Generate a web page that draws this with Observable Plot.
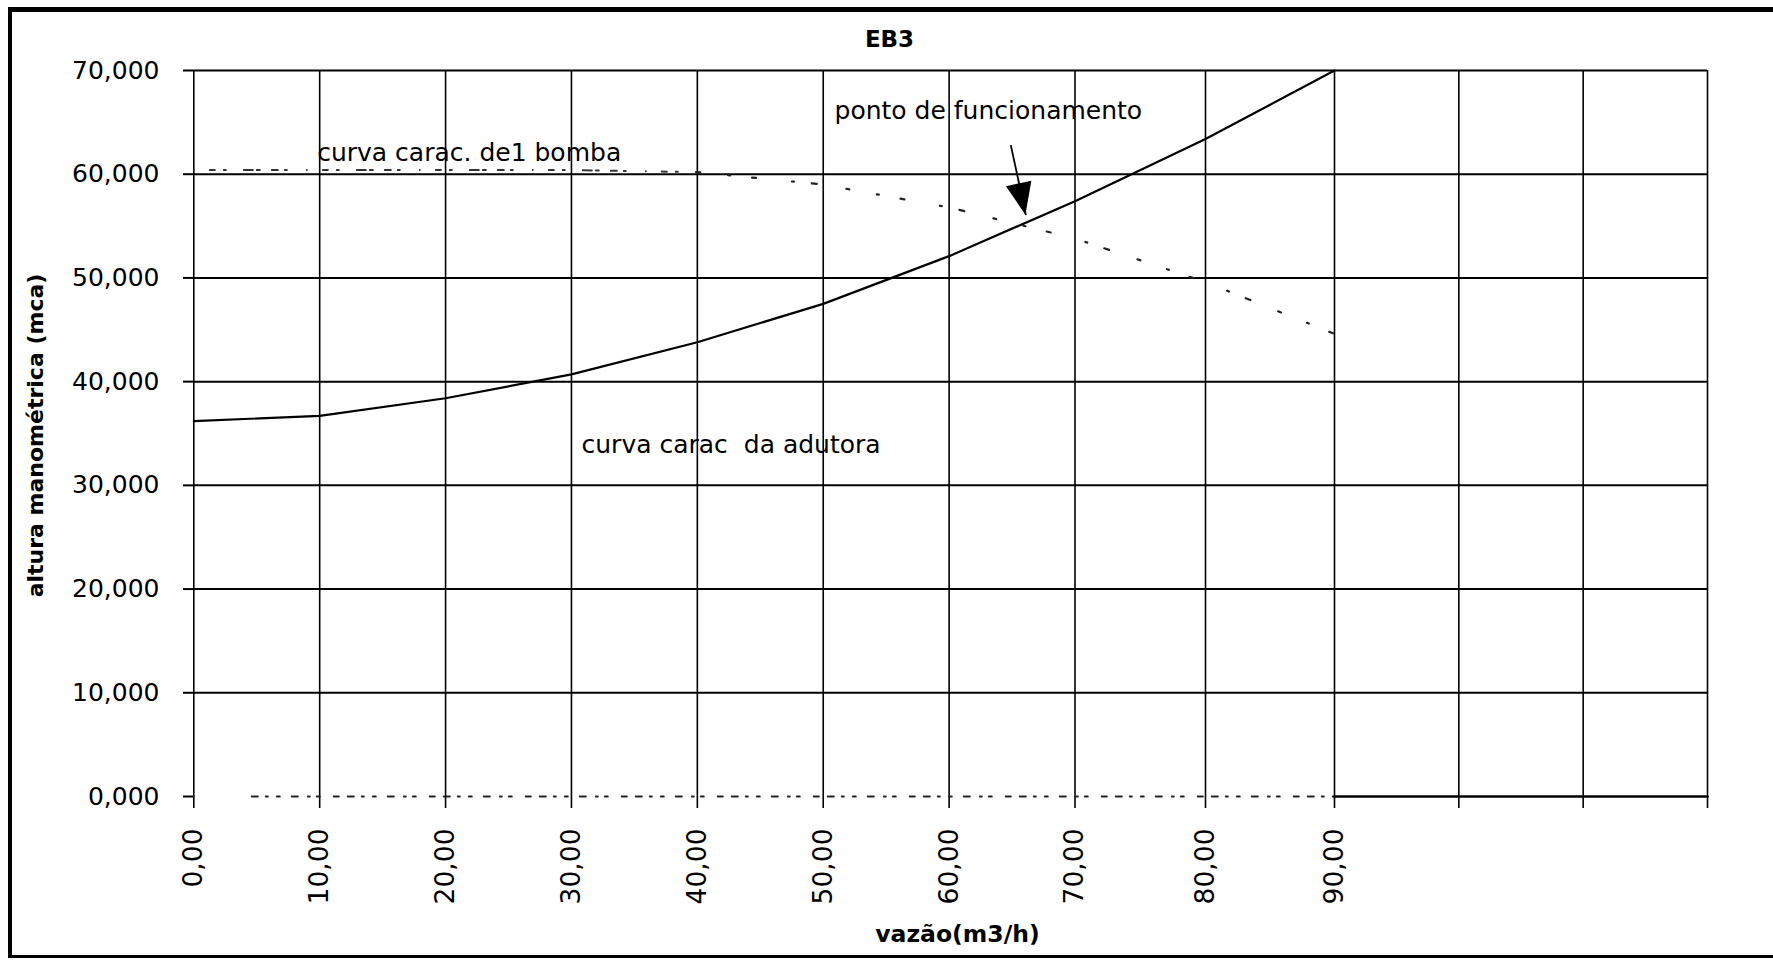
<!DOCTYPE html>
<html>
<head>
<meta charset="utf-8">
<script src="https://cdn.jsdelivr.net/npm/d3@7"></script>
<script src="https://cdn.jsdelivr.net/npm/@observablehq/plot@0.6"></script>
<style>
  html, body { margin: 0; padding: 0; background: #fff; overflow: hidden; }
  #wrap { position: relative; width: 1773px; height: 962px; overflow: hidden; }
  #wrap svg { position: absolute; left: 0; top: 0; }
  #frame {
    position: absolute; left: 8px; top: 7px; width: 1765px; height: 951px;
    box-sizing: border-box; pointer-events: none;
    border-left: 4px solid #000; border-top: 5px solid #000; border-bottom: 3px solid #000;
  }
</style>
</head>
<body>
<div id="wrap"><div id="frame"></div></div>
<script>
// Texts
const chartTitle = "EB3";
const xTitle = "vazão(m3/h)";
const yTitle = "altura manométrica (mca)";

// Flow rate (m3/h) and the two characteristic curves (mca)
const flow = [0, 10, 20, 30, 40, 50, 60, 70, 80, 90];
const systemHead = [36.2, 36.7, 38.4, 40.7, 43.8, 47.5, 52.1, 57.4, 63.4, 70.0];
const pumpHead = [60.4, 60.4, 60.4, 60.4, 60.2, 59.0, 56.8, 53.8, 49.6, 44.6];
const zeroHead = [0, 0, 0, 0, 0, 0, 0, 0, 0, 0];

// Remaining stretch of the category axis past the last flow value
const axisTailFlow = [90, 120];
const axisTailHead = [0, 0];

// Axis ticks
const xGridTicks = [0, 10, 20, 30, 40, 50, 60, 70, 80, 90, 100, 110, 120];
const xLabelTicks = [0, 10, 20, 30, 40, 50, 60, 70, 80, 90];
const yTicks = [0, 10, 20, 30, 40, 50, 60, 70];

// Annotations (anchored in data units)
const noteText = ["curva carac. de1 bomba", "ponto de funcionamento", "curva carac\u00a0 da adutora"];
const noteFlow = [9.8, 50.9, 30.8];
const noteHead = [62.0, 66.1, 33.9];

// Arrow pointing at the operating point
const arrowFlow = [64.9, 66.1];
const arrowHeadValue = [62.8, 56.05];

const fmtY = d => d.toFixed(3).replace(".", ",");
const fmtX = d => d.toFixed(2).replace(".", ",");

// Dotted stroke for the zero series: a lead-in gap, then a ragged dot pattern
const zeroDash = "0 58 " + Array(30).fill("6 8 2 9 3 12 6 10 2 7 3 14 5 9").join(" ");

// Filled triangular arrowhead drawn with the plot's own scales
function arrowTip(index, scales) {
  const x1 = scales.x(arrowFlow[0]), y1 = scales.y(arrowHeadValue[0]);
  const x2 = scales.x(arrowFlow[1]), y2 = scales.y(arrowHeadValue[1]);
  const len = Math.hypot(x2 - x1, y2 - y1);
  const ux = (x2 - x1) / len, uy = (y2 - y1) / len;
  const L = 32, W = 13;
  const bx = x2 - L * ux, by = y2 - L * uy;
  const pts = [[x2, y2], [bx - W * uy, by + W * ux], [bx + W * uy, by - W * ux]];
  return d3.create("svg:path")
    .attr("d", "M" + pts.map(p => p.join(",")).join("L") + "Z")
    .attr("fill", "#000")
    .node();
}

const chart = Plot.plot({
  width: 1773,
  height: 962,
  marginLeft: 193,
  marginRight: 66,
  marginTop: 70,
  marginBottom: 166,
  style: {
    fontFamily: "'DejaVu Sans', sans-serif",
    fontSize: "25px",
    color: "#000",
    background: "transparent",
    overflow: "visible",
    whiteSpace: "pre"
  },
  // piecewise linear: the printed category axis is slightly uneven past 70
  x: { type: "linear", domain: [0, 70, 80, 90, 120], range: [193.3, 1074.5, 1205, 1334, 1707], axis: null },
  y: { domain: [0, 70], axis: null },
  marks: [
    // grid
    Plot.ruleX(xGridTicks, { stroke: "#000", strokeWidth: 1.6 }),
    Plot.ruleY(yTicks.filter(d => d > 0), { stroke: "#000", strokeWidth: 2 }),

    // axes
    Plot.axisY({ ticks: yTicks, tickSize: 10, tickPadding: 24, tickFormat: fmtY, fontSize: 25, strokeWidth: 2, label: null }),
    Plot.axisX({ ticks: xGridTicks, tickSize: 12, tickFormat: () => "", strokeWidth: 1.6, label: null }),
    Plot.axisX({ ticks: xLabelTicks, tickSize: 0, tickPadding: 32, tickRotate: -90, tickFormat: fmtX, fontSize: 26.5, label: null }),

    // zero series and axis tail
    Plot.line(flow, { x: flow, y: zeroHead, stroke: "#222", strokeWidth: 2, strokeDasharray: zeroDash }),
    Plot.line(axisTailFlow, { x: axisTailFlow, y: axisTailHead, stroke: "#000", strokeWidth: 2.6 }),

    // pump characteristic (dotted): flat stretch, then the falling branch
    Plot.line(flow, { x: flow, y: pumpHead, filter: d => d <= 40, stroke: "#333", strokeWidth: 2, strokeDasharray: "0 16 5 9 2 18 9 4 3 12 6 7 2 20" }),
    Plot.line(flow, { x: flow, y: pumpHead, filter: d => d >= 40, stroke: "#222", strokeWidth: 2.2, strokeDasharray: "3 28 2 22 4 36 2 18 5 30" }),

    // system characteristic
    Plot.line(flow, { x: flow, y: systemHead, stroke: "#000", strokeWidth: 2.2 }),

    // annotations
    Plot.text(noteText, { x: noteFlow, y: noteHead, text: d => d, textAnchor: "start", fontSize: 25, fill: "#000" }),
    Plot.link([0], { x1: [arrowFlow[0]], y1: [arrowHeadValue[0]], x2: [arrowFlow[1]], y2: [arrowHeadValue[1]], stroke: "#000", strokeWidth: 1.8 }),
    arrowTip,

    // titles
    Plot.text([chartTitle], { frameAnchor: "top", lineAnchor: "middle", textAnchor: "middle", dx: -61, dy: -31, fontSize: 23, fontWeight: "bold", fill: "#000" }),
    Plot.text([yTitle], { frameAnchor: "left", lineAnchor: "middle", textAnchor: "middle", dx: -158, dy: 2, rotate: -90, fontSize: 22, fontWeight: "bold", fill: "#000" }),
    Plot.text([xTitle], { frameAnchor: "bottom", lineAnchor: "middle", textAnchor: "middle", dx: 7, dy: 138, fontSize: 23.5, fontWeight: "bold", fill: "#000" })
  ]
});

document.getElementById("wrap").insertBefore(chart, document.getElementById("frame"));
</script>
</body>
</html>
